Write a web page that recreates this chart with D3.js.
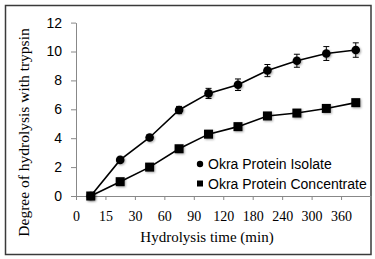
<!DOCTYPE html>
<html>
<head>
<meta charset="utf-8">
<script src="https://cdn.jsdelivr.net/npm/d3@7"></script>
<style>
  body { margin: 0; background: #fff; }
  svg { display: block; }
</style>
</head>
<body>
<div id="chart"></div>
<script>
// data
const times = ["0", "15", "30", "60", "90", "120", "180", "240", "300", "360"];
const isolate = [0, 2.5, 4.05, 5.95, 7.1, 7.7, 8.68, 9.36, 9.86, 10.1];
const isolateErr = [0.05, 0.15, 0.18, 0.25, 0.35, 0.4, 0.42, 0.45, 0.48, 0.5];
const concentrate = [0, 0.99, 2.0, 3.27, 4.28, 4.8, 5.54, 5.74, 6.06, 6.46];
const yTicks = [0, 2, 4, 6, 8, 10, 12];

const width = 375, height = 259;
const plotLeft = 76, plotRight = 370.5, plotTop = 22.6, plotBottom = 196;

const svg = d3.select("#chart").append("svg")
    .attr("width", width)
    .attr("height", height);

// marker shadow
const defs = svg.append("defs");
defs.append("filter")
    .attr("id", "shadow")
    .attr("x", "-50%").attr("y", "-50%")
    .attr("width", "200%").attr("height", "200%")
    .append("feDropShadow")
    .attr("dx", 1).attr("dy", 1)
    .attr("stdDeviation", 1)
    .attr("flood-color", "#000")
    .attr("flood-opacity", 0.35);

// outer border
svg.append("rect")
    .attr("x", 5.5).attr("y", 5.5)
    .attr("width", 365.5).attr("height", 249)
    .attr("fill", "none")
    .attr("stroke", "#3a3a3a")
    .attr("stroke-width", 1.5);

const x = d3.scaleBand().domain(times).range([plotLeft, plotRight]);
const xEdge = d3.scaleLinear().domain([0, times.length]).range([plotLeft, plotRight]);
const y = d3.scaleLinear().domain([0, 12]).range([plotBottom, plotTop]);

// y axis
svg.append("g")
    .attr("transform", `translate(${plotLeft},0)`)
    .call(d3.axisLeft(y).tickValues(yTicks).tickSize(5).tickPadding(9).tickSizeOuter(0))
    .call(g => g.selectAll("path, line").attr("stroke", "#888"))
    .call(g => g.selectAll("text")
        .attr("font-family", "Liberation Sans, Arial, sans-serif")
        .attr("font-size", 14)
        .attr("fill", "#000"));

// x axis: labels sit on the category edges
svg.append("g")
    .attr("transform", `translate(0,${plotBottom})`)
    .call(d3.axisBottom(xEdge)
        .tickValues(d3.range(times.length + 1))
        .tickFormat(i => times[i] || "")
        .tickSize(4).tickPadding(11).tickSizeOuter(0))
    .call(g => g.selectAll("path, line").attr("stroke", "#888"))
    .call(g => g.selectAll("text")
        .attr("font-family", "Liberation Serif, Times New Roman, serif")
        .attr("font-size", 14)
        .attr("fill", "#000"));

const cx = (d, i) => x(times[i]) + x.bandwidth() / 2;

const line = d3.line()
    .x((d, i) => cx(d, i))
    .y(d => y(d));

// concentrate series
svg.append("path")
    .datum(concentrate)
    .attr("fill", "none")
    .attr("stroke", "#000")
    .attr("stroke-width", 1.6)
    .attr("d", line);

svg.append("g")
    .selectAll("rect")
    .data(concentrate)
    .join("rect")
    .attr("x", (d, i) => cx(d, i) - 4.5)
    .attr("y", d => y(d) - 4.5)
    .attr("width", 9)
    .attr("height", 9)
    .attr("fill", "#000")
    .attr("filter", "url(#shadow)");

// isolate series
svg.append("path")
    .datum(isolate)
    .attr("fill", "none")
    .attr("stroke", "#000")
    .attr("stroke-width", 1.6)
    .attr("d", line);

const err = svg.append("g")
    .attr("stroke", "#000")
    .attr("stroke-width", 1);

err.selectAll(".bar")
    .data(isolate)
    .join("line")
    .attr("x1", cx).attr("x2", cx)
    .attr("y1", (d, i) => y(d + isolateErr[i]))
    .attr("y2", (d, i) => y(d - isolateErr[i]));

err.selectAll(".capTop")
    .data(isolate)
    .join("line")
    .attr("x1", (d, i) => cx(d, i) - 3).attr("x2", (d, i) => cx(d, i) + 3)
    .attr("y1", (d, i) => y(d + isolateErr[i]))
    .attr("y2", (d, i) => y(d + isolateErr[i]));

err.selectAll(".capBottom")
    .data(isolate)
    .join("line")
    .attr("x1", (d, i) => cx(d, i) - 3).attr("x2", (d, i) => cx(d, i) + 3)
    .attr("y1", (d, i) => y(d - isolateErr[i]))
    .attr("y2", (d, i) => y(d - isolateErr[i]));

svg.append("g")
    .selectAll("circle")
    .data(isolate)
    .join("circle")
    .attr("cx", cx)
    .attr("cy", d => y(d))
    .attr("r", 4.3)
    .attr("fill", "#000")
    .attr("filter", "url(#shadow)");

// legend
const legend = svg.append("g")
    .attr("font-family", "Liberation Sans, Arial, sans-serif")
    .attr("font-size", 14);

legend.append("circle")
    .attr("cx", 200).attr("cy", 164).attr("r", 3.2).attr("fill", "#000");
legend.append("text")
    .attr("x", 208).attr("y", 169).text("Okra Protein Isolate");

legend.append("rect")
    .attr("x", 197).attr("y", 180.5).attr("width", 6).attr("height", 6).attr("fill", "#000");
legend.append("text")
    .attr("x", 208).attr("y", 188.5).text("Okra Protein Concentrate");

// axis titles
svg.append("text")
    .attr("x", 207).attr("y", 242)
    .attr("text-anchor", "middle")
    .attr("font-family", "Liberation Serif, Times New Roman, serif")
    .attr("font-size", 15)
    .text("Hydrolysis time (min)");

svg.append("text")
    .attr("transform", "translate(29,132.5) rotate(-90)")
    .attr("text-anchor", "middle")
    .attr("font-family", "Liberation Serif, Times New Roman, serif")
    .attr("font-size", 15.5)
    .text("Degree of hydrolysis with trypsin");
</script>
</body>
</html>
